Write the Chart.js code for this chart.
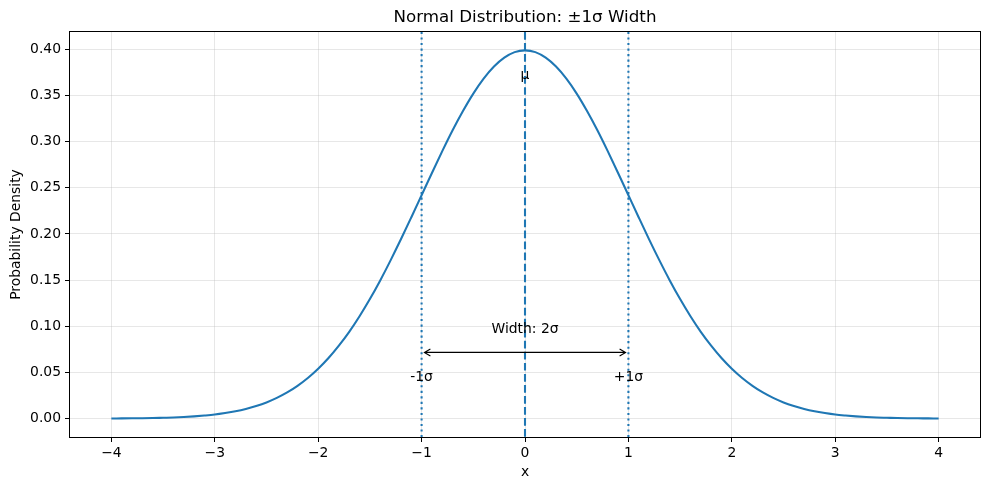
<!DOCTYPE html>
<html>
<head>
<meta charset="utf-8">
<script src="https://cdn.jsdelivr.net/npm/chart.js@4.4.0/dist/chart.umd.min.js"></script>
<style>
html,body{margin:0;padding:0;background:#fff;}
#wrap{width:989px;height:490px;}
</style>
</head>
<body>
<div id="wrap"><canvas id="c" width="989" height="490"></canvas></div>
<script>
// ---- data ----
const xValues = [-4.0,-3.9,-3.8,-3.7,-3.6,-3.5,-3.4,-3.3,-3.2,-3.1,-3.0,-2.9,-2.8,-2.7,-2.6,-2.5,-2.4,-2.3,-2.2,-2.1,-2.0,-1.9,-1.8,-1.7,-1.6,-1.5,-1.4,-1.3,-1.2,-1.1,-1.0,-0.9,-0.8,-0.7,-0.6,-0.5,-0.4,-0.3,-0.2,-0.1,0.0,0.1,0.2,0.3,0.4,0.5,0.6,0.7,0.8,0.9,1.0,1.1,1.2,1.3,1.4,1.5,1.6,1.7,1.8,1.9,2.0,2.1,2.2,2.3,2.4,2.5,2.6,2.7,2.8,2.9,3.0,3.1,3.2,3.3,3.4,3.5,3.6,3.7,3.8,3.9,4.0];
const densityValues = [0.0001,0.0002,0.0003,0.0004,0.0006,0.0009,0.0012,0.0017,0.0024,0.0033,0.0044,0.0060,0.0079,0.0104,0.0136,0.0175,0.0224,0.0283,0.0355,0.0440,0.0540,0.0656,0.0790,0.0940,0.1109,0.1295,0.1497,0.1714,0.1942,0.2179,0.2420,0.2661,0.2897,0.3123,0.3332,0.3521,0.3683,0.3814,0.3910,0.3970,0.3989,0.3970,0.3910,0.3814,0.3683,0.3521,0.3332,0.3123,0.2897,0.2661,0.2420,0.2179,0.1942,0.1714,0.1497,0.1295,0.1109,0.0940,0.0790,0.0656,0.0540,0.0440,0.0355,0.0283,0.0224,0.0175,0.0136,0.0104,0.0079,0.0060,0.0044,0.0033,0.0024,0.0017,0.0012,0.0009,0.0006,0.0004,0.0003,0.0002,0.0001];
const meanValue = 0;
const sigmaLines = [-1, 1];
const sigmaLabels = ['-1σ', '+1σ'];
const xTicks = [-4,-3,-2,-1,0,1,2,3,4];
const yTicks = [0.00,0.05,0.10,0.15,0.20,0.25,0.30,0.35,0.40];
const titleText = 'Normal Distribution: ±1σ Width';
const xLabel = 'x';
const yLabel = 'Probability Density';
const widthLabel = 'Width: 2σ';
const arrowY = 0.0717;
const widthLabelY = 0.0967;
const sigmaLabelY = 0.0446;
const muLabelY = 0.3717;

const BLUE = '#1f77b4';
const FONT = '"DejaVu Sans", sans-serif';

const points = xValues.map((x, i) => ({x: x, y: densityValues[i]}));

const decorPlugin = {
  id: 'decor',
  afterDatasetsDraw(chart) {
    const ctx = chart.ctx;
    const xs = chart.scales.x, ys = chart.scales.y;
    const a = chart.chartArea;
    ctx.save();
    ctx.beginPath();
    ctx.rect(a.left, a.top, a.right - a.left, a.bottom - a.top);
    ctx.clip();
    ctx.strokeStyle = BLUE;
    ctx.lineWidth = 2.08;
    ctx.setLineDash([2.08, 3.44]);
    sigmaLines.forEach(v => {
      const px = xs.getPixelForValue(v);
      ctx.beginPath();
      ctx.moveTo(px, a.top);
      ctx.lineTo(px, a.bottom);
      ctx.stroke();
    });
    ctx.setLineDash([7.7, 3.33]);
    const pm = xs.getPixelForValue(meanValue);
    ctx.beginPath();
    ctx.moveTo(pm, a.top);
    ctx.lineTo(pm, a.bottom);
    ctx.stroke();
    ctx.setLineDash([]);
    ctx.restore();

    ctx.save();
    const ay = ys.getPixelForValue(arrowY);
    const x1 = xs.getPixelForValue(sigmaLines[0]) + 2.8;
    const x2 = xs.getPixelForValue(sigmaLines[1]) - 2.8;
    ctx.strokeStyle = '#000';
    ctx.lineWidth = 1.1;
    ctx.beginPath();
    ctx.moveTo(x1, ay); ctx.lineTo(x2, ay);
    ctx.moveTo(x1 + 6, ay - 3.5); ctx.lineTo(x1, ay); ctx.lineTo(x1 + 6, ay + 3.5);
    ctx.moveTo(x2 - 6, ay - 3.5); ctx.lineTo(x2, ay); ctx.lineTo(x2 - 6, ay + 3.5);
    ctx.stroke();

    ctx.fillStyle = '#000';
    ctx.font = '13.9px ' + FONT;
    ctx.textAlign = 'center';
    ctx.textBaseline = 'middle';
    ctx.fillText(widthLabel, xs.getPixelForValue(meanValue), ys.getPixelForValue(widthLabelY));
    sigmaLines.forEach((v, i) => {
      ctx.fillText(sigmaLabels[i], xs.getPixelForValue(v), ys.getPixelForValue(sigmaLabelY));
    });
    ctx.fillText('μ', xs.getPixelForValue(meanValue), ys.getPixelForValue(muLabelY));

    ctx.lineWidth = 1;
    ctx.strokeStyle = '#000';
    ctx.strokeRect(Math.round(a.left) - 0.5, Math.round(a.top) - 0.5,
                   Math.round(a.right - a.left) + 1, Math.round(a.bottom - a.top) + 1);

    ctx.font = '16.7px ' + FONT;
    ctx.fillText(titleText, (a.left + a.right) / 2, 18);
    ctx.font = '13.9px ' + FONT;
    ctx.fillText(xLabel, (a.left + a.right) / 2, 472);
    ctx.translate(16, (a.top + a.bottom) / 2);
    ctx.rotate(-Math.PI / 2);
    ctx.fillText(yLabel, 0, 0);
    ctx.restore();
  }
};

new Chart(document.getElementById('c'), {
  type: 'scatter',
  data: {
    datasets: [{
      data: points,
      showLine: true,
      borderColor: BLUE,
      borderWidth: 2.08,
      pointRadius: 0,
      fill: false,
      cubicInterpolationMode: 'monotone'
    }]
  },
  options: {
    responsive: false,
    animation: false,
    devicePixelRatio: 1,
    layout: {padding: {left: 0, right: 9, top: 32, bottom: 0}},
    plugins: {legend: {display: false}, tooltip: {enabled: false}, title: {display: false}},
    scales: {
      x: {
        type: 'linear',
        min: -4.4, max: 4.4,
        afterBuildTicks(s) { s.ticks = xTicks.map(v => ({value: v})); },
        afterFit(s) { s.height = 53; },
        ticks: {
          color: '#000', font: {family: FONT, size: 13.9}, padding: 3,
          maxRotation: 0, autoSkip: false,
          callback: v => (v < 0 ? '\u2212' + Math.abs(v) : String(v))
        },
        grid: {color: 'rgba(176,176,176,0.3)', lineWidth: 1, tickColor: '#000', tickLength: 5, drawTicks: true},
        border: {display: false}
      },
      y: {
        type: 'linear',
        min: -0.01995, max: 0.4188,
        afterBuildTicks(s) { s.ticks = yTicks.map(v => ({value: v})); },
        afterFit(s) { s.width = 70; },
        ticks: {
          color: '#000', font: {family: FONT, size: 13.9}, padding: 4,
          autoSkip: false,
          callback: v => Number(v).toFixed(2)
        },
        grid: {color: 'rgba(176,176,176,0.3)', lineWidth: 1, tickColor: '#000', tickLength: 5, drawTicks: true},
        border: {display: false}
      }
    }
  },
  plugins: [decorPlugin]
});
</script>
</body>
</html>
